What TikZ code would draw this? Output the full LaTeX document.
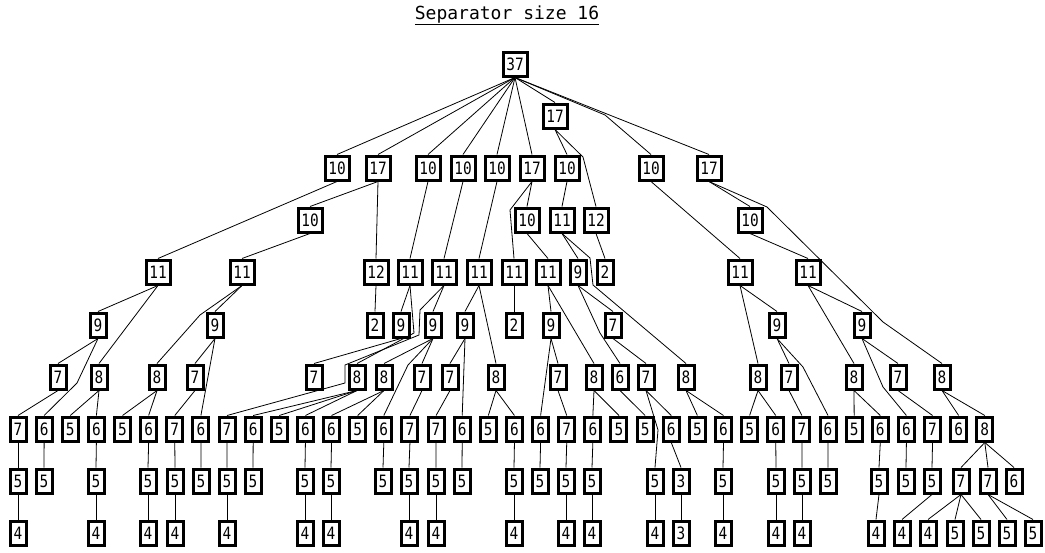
\documentclass[tikz,border=0pt]{standalone}
\usepackage{fontspec}
\newfontfamily\fonteCaixa[FakeStretch=0.85]{DejaVu Sans Mono}
\newfontfamily\fonteTitulo{DejaVu Sans Mono}
\begin{document}
\begin{tikzpicture}[x=1pt,y=-1pt,
  caixa/.style={draw,rectangle,line width=3pt,inner sep=0pt,minimum width=16pt,minimum height=24pt,font=\fonteCaixa\fontsize{17}{17}\selectfont},
  largo/.style={caixa,minimum width=24pt},
  aresta/.style={line width=.8pt},
  titulo/.style={font=\fonteTitulo\fontsize{18}{18}\selectfont,inner sep=0pt}]
  \useasboundingbox (0,0) rectangle (1045,552);
  \node[titulo,anchor=base] (tit) at (507,19) {\underline{Separator size 16}};
  \node[largo] (a1) at (515,64) {37};
  \node[largo] (b1) at (555,116) {17};
  \node[largo] (c1) at (337,168) {10};
  \node[largo] (c2) at (378,168) {17};
  \node[largo] (c3) at (428,168) {10};
  \node[largo] (c4) at (463,168) {10};
  \node[largo] (c5) at (497,168) {10};
  \node[largo] (c6) at (532,168) {17};
  \node[largo] (c7) at (567,168) {10};
  \node[largo] (c8) at (651,168) {10};
  \node[largo] (c9) at (709,168) {17};
  \node[largo] (d1) at (310,220) {10};
  \node[largo] (d2) at (527,220) {10};
  \node[largo] (d3) at (562,220) {11};
  \node[largo] (d4) at (596,220) {12};
  \node[largo] (d5) at (750,220) {10};
  \node[largo] (e1) at (158,272) {11};
  \node[largo] (e2) at (242,272) {11};
  \node[largo] (e3) at (376,272) {12};
  \node[largo] (e4) at (410,272) {11};
  \node[largo] (e5) at (444,272) {11};
  \node[largo] (e6) at (479,272) {11};
  \node[largo] (e7) at (514,272) {11};
  \node[largo] (e8) at (548,272) {11};
  \node[caixa] (e9) at (578,272) {9};
  \node[caixa] (e10) at (605,272) {2};
  \node[largo] (e11) at (740,272) {11};
  \node[largo] (e12) at (808,272) {11};
  \foreach \v/\x [count=\k] in {9/98,9/215,2/375,9/401,9/433,9/465,2/514,9/551,7/613,9/777,9/862}
    \node[caixa] (f\k) at (\x,325) {\v};
  \foreach \v/\x [count=\k] in {7/58,8/99,8/157,7/195,7/314,8/357,8/384,7/422,7/450,8/496,7/558,8/594,6/620,7/646,8/686,8/758,7/789,8/854,7/898,8/942}
    \node[caixa] (g\k) at (\x,377) {\v};
  \foreach \v [count=\k] in {7,6,5,6,5,6,7,6,7,6,5,6,6,5,6,7,7,6,5,6,6,7,6,5,5,6,5,6,5,6,7,6,5,6,6,7,6,8}
    \node[caixa] (h\k) at ({18+26.13*(\k-1)},429) {\v};
  \foreach \v/\x [count=\k] in {5/18,5/44,5/96,5/148,5/175,5/201,5/227,5/253,5/305,5/331,5/383,5/409,5/436,5/462,5/514,5/540,5/566,5/592,5/655,3/681,5/723,5/776,5/802,5/828,5/879,5/906,5/932,7/961,7/988,6/1014}
    \node[caixa] (i\k) at (\x,481) {\v};
  \foreach \v/\x [count=\k] in {4/18,4/96,4/148,4/175,4/227,4/305,4/331,4/409,4/436,4/514,4/566,4/592,4/655,3/681,4/723,4/776,4/802,4/876,4/902,4/928,5/955,5/981,5/1007,5/1033}
    \node[caixa] (j\k) at (\x,533) {\v};
  \foreach \p/\f in {a1/c1,a1/c2,a1/c3,a1/c4,a1/c5,a1/c6,a1/b1,a1/c9,b1/c7,
      c1/e1,c2/d1,c2/e3,c3/e4,c4/e5,c5/e6,c6/d2,c7/d3,c8/e11,c9/d5,
      d1/e2,d2/e8,d3/e9,d4/e10,d5/e12,
      e1/f1,e1/g2,e2/f2,e3/f3,e4/f4,e5/f5,e6/f6,e6/g10,e7/f7,e8/f8,e8/g12,e9/f9,e11/f10,e11/g16,e12/f11,e12/g18,
      f1/g1,f2/g4,f2/h8,f4/g5,f5/g7,f5/g8,f6/g9,f6/h18,f8/g11,f8/h21,f9/g14,f10/g17,f11/g19,
      g1/h1,g2/h3,g2/h4,g3/h5,g3/h6,g4/h7,g6/h10,g6/h11,g6/h12,g7/h13,g7/h14,g8/h16,g9/h17,g10/h19,g10/h20,
      g11/h22,g12/h23,g12/h24,g13/h25,g14/h26,g15/h27,g15/h28,g16/h29,g16/h30,g17/h31,g18/h33,g18/h34,g19/h36,g20/h37,g20/h38,
      h1/i1,h2/i2,h4/i3,h6/i4,h7/i5,h8/i6,h9/i7,h10/i8,h12/i9,h13/i10,h15/i11,h16/i12,h17/i13,h18/i14,h20/i15,
      h21/i16,h22/i17,h23/i18,h26/i20,h28/i21,h30/i22,h31/i23,h32/i24,h34/i25,h35/i26,h36/i27,h38/i28,h38/i29,h38/i30,
      i1/j1,i3/j2,i4/j3,i5/j4,i7/j5,i9/j6,i10/j7,i12/j8,i13/j9,i15/j10,i17/j11,i18/j12,i19/j13,i20/j14,
      i21/j15,i22/j16,i23/j17,i25/j18,i27/j19,i28/j20,i28/j21,i28/j22,i29/j23,i29/j24}
    \draw[aresta] (\p.south)--(\f.north);
  \draw[aresta] (a1.south)--(605,115)--(c8.north);
  \draw[aresta] (b1.south)--(583,157)--(d4.north);
  \draw[aresta] (c6.south)--(510,210)--(e7.north);
  \draw[aresta] (c9.south)--(767,207)--(883,322)--(g20.north);
  \draw[aresta] (d3.south)--(590,258)--(593,285)--(g15.north);
  \draw[aresta] (e2.south)--(200,315)--(g3.north);
  \draw[aresta] (e4.south)--(414,333)--(g6.north);
  \draw[aresta] (e5.south)--(420,310)--(419,335)--(345,365)--(345,383)--(h9.north);
  \draw[aresta] (e9.south)--(600,333)--(g13.north);
  \draw[aresta] (f1.south)--(77,383)--(h2.north);
  \draw[aresta] (f5.south)--(408,365)--(h15.north);
  \draw[aresta] (f10.south)--(803,367)--(h32.north);
  \draw[aresta] (f11.south)--(883,387)--(h35.north);
  \draw[aresta] (g14.south)--(658,430)--(i19.north);
\end{tikzpicture}
\end{document}
